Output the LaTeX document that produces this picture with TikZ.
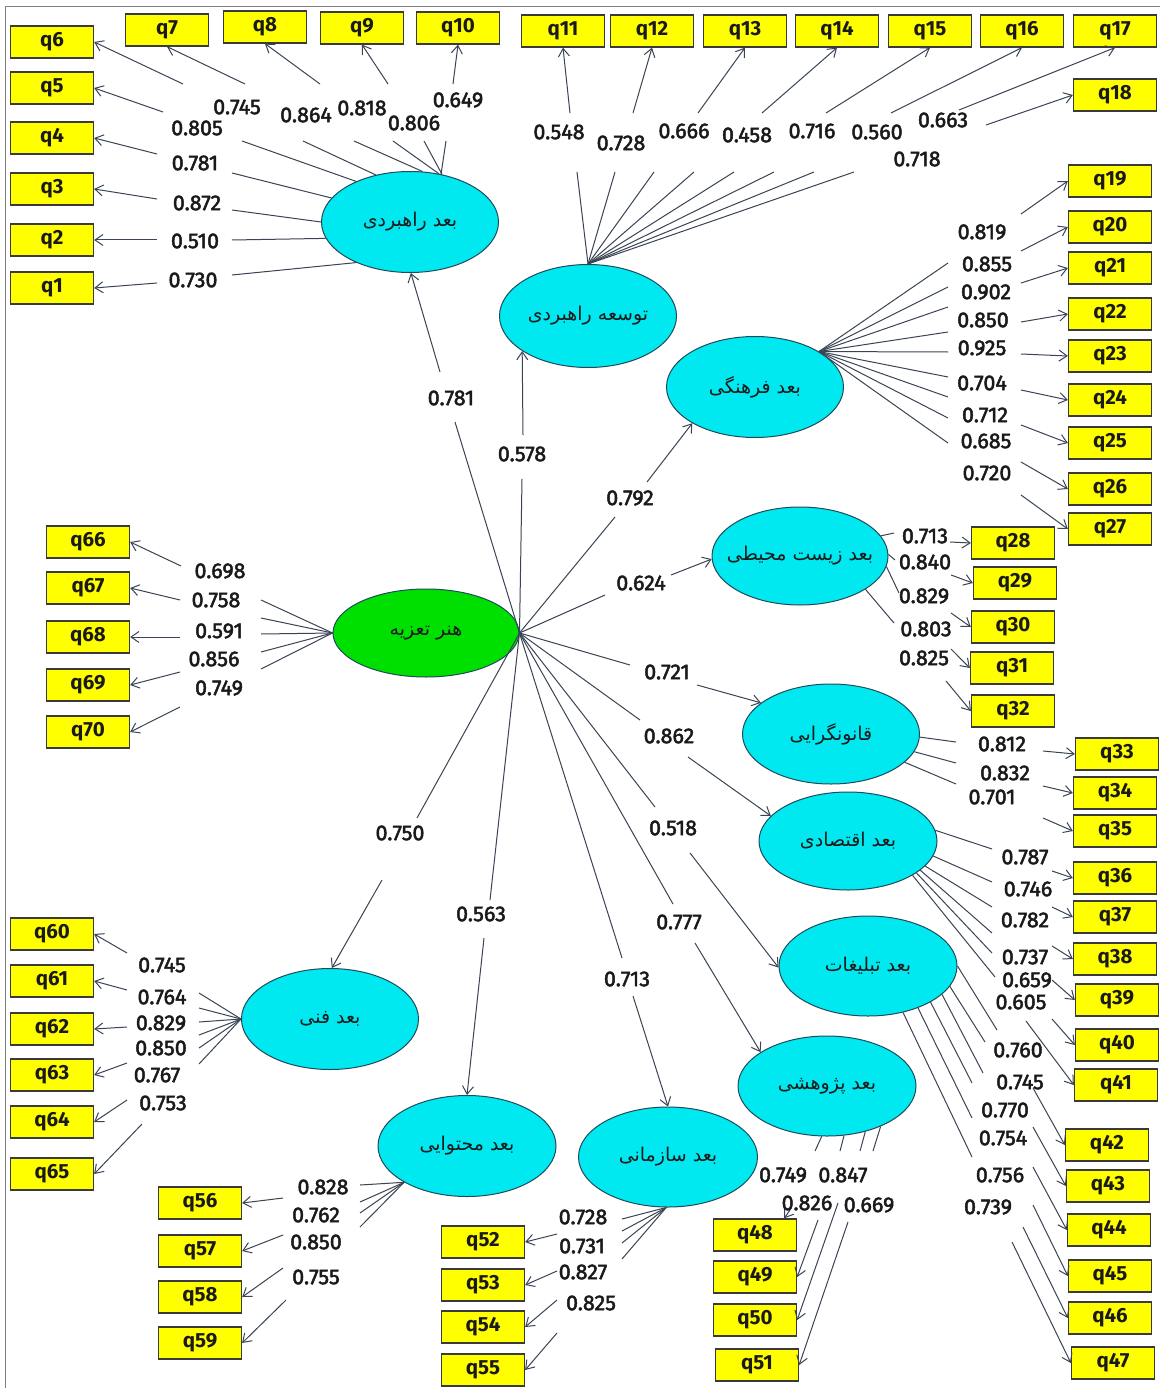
\documentclass[tikz,border=0pt]{standalone}
\usepackage{fontspec}
\setmainfont{Fira Sans}
\newfontfamily\numf[FakeBold=2.2]{Fira Sans}
\newfontfamily\fa[Script=Arabic]{DejaVu Sans}
\TeXXeTstate=1
\usetikzlibrary{shapes.geometric,arrows.meta}
\definecolor{lc}{HTML}{3A4454}
\definecolor{bc}{HTML}{3A3A3A}
\definecolor{ec}{HTML}{1E4A5A}
\definecolor{cyanf}{HTML}{00E8F0}
\definecolor{greenf}{HTML}{00E000}
\definecolor{yell}{HTML}{FFFF00}
\definecolor{txt}{HTML}{1A1A1A}
\tikzset{
  ln/.style={draw=lc, line width=1pt},
  ar/.style={ln, -{Straight Barb[length=8pt,width=11pt]}},
  lab/.style={font=\numf\fontsize{21.5}{25}\selectfont, text=txt, inner sep=0pt},
  qbox/.style={draw=bc, fill=yell, line width=1.3pt, minimum width=83pt, minimum height=32pt, inner sep=0pt, font=\fontsize{20.5}{24}\selectfont\bfseries, text=txt},
  lat/.style={ellipse, draw=ec, fill=cyanf, line width=1pt, minimum width=177pt, minimum height=101pt, inner sep=0pt},
  ptxt/.style={font=\fa\fontsize{19}{22}\selectfont, text=txt, inner sep=0pt}
}
\newcommand\ind[7]{%
  \coordinate (A-#1) at (#3);
  \coordinate (B-#1) at (#4);
  \node[lab] (L-#1) at (#7) {#6};
  \draw[ln] (#2) -- (A-#1);
  \draw[ar] (B-#1) -- (#5);
}
\newcommand\indx[5]{%
  \coordinate (B-#1) at (#2);
  \node[lab] (L-#1) at (#5) {#4};
  \draw[ar] (B-#1) -- (#3);
}
\newcommand\latn[4]{%
  \node[lat,#4] (#1) at (#2) {};
  \node[ptxt] (#1-t) at (#1) {#3};
}
\begin{document}
\begin{tikzpicture}[x=1pt,y=-1pt]
\useasboundingbox (0,0) rectangle (1160,1388);
\fill[white] (0,0) rectangle (1160,1388);
\coordinate (fr1) at (5,1388);
\coordinate (fr2) at (5,7);
\coordinate (fr3) at (1160,7);
\draw[gray, line width=1pt] (fr1) -- (fr2) -- (fr3);

% latent variables
\latn{H}{426,633}{\beginR هنر تعزیه\endR}{fill=greenf, minimum width=186pt, minimum height=88pt}
\latn{R}{410,222}{\beginR بعد راهبردی\endR}{}
\latn{T}{588,316}{\beginR توسعه راهبردی\endR}{minimum height=103pt}
\latn{F}{755,387}{\beginR بعد فرهنگی\endR}{}
\latn{Z}{800,556}{\beginR بعد زیست محیطی\endR}{minimum width=176pt, minimum height=98pt}
\latn{Q}{831,734}{\beginR قانونگرایی\endR}{minimum height=100pt}
\latn{E}{848,841}{\beginR بعد اقتصادی\endR}{minimum width=178pt, minimum height=98pt}
\latn{Tb}{868,966}{\beginR بعد تبلیغات\endR}{minimum width=178pt, minimum height=100pt}
\latn{P}{827,1086}{\beginR بعد پژوهشی\endR}{minimum width=178pt, minimum height=100pt}
\latn{S}{668,1157}{\beginR بعد سازمانی\endR}{minimum width=179pt, minimum height=100pt}
\latn{M}{467,1146}{\beginR بعد محتوایی\endR}{minimum width=178pt}
\latn{N}{330,1019}{\beginR بعد فنی\endR}{}

% indicator boxes
\foreach \n/\x/\y in {q1/52/288,q2/52/240,q3/52/189,q4/52/138,q5/52/88,q6/52/42,
  q7/167/30,q8/265/27,q9/362/28,q10/458/28,
  q11/563/31,q12/652/31,q13/745/31,q14/837/31,q15/930/31,q16/1022/31,q17/1115/31,q18/1115/95,
  q19/1110/181,q20/1110/227,q21/1110/268,q22/1110/314,q23/1110/356,q24/1110/400,q25/1110/443,q26/1110/489,q27/1110/529,
  q28/1013/543,q29/1015/583,q30/1013/627,q31/1012/668,q32/1013/711,
  q33/1117/754,q34/1115/793,q35/1115/831,
  q36/1115/878,q37/1115/917,q38/1115/959,q39/1117/1000,q40/1117/1045,q41/1116/1085,
  q42/1107/1145,q43/1108/1186,q44/1109/1230,q45/1110/1276,q46/1110/1318,q47/1113/1363,
  q48/755/1235,q49/755/1277,q50/755/1320,q51/757/1365,
  q52/483/1242,q53/483/1285,q54/483/1327,q55/483/1370,
  q56/200/1203,q57/200/1251,q58/200/1297,q59/200/1343,
  q60/52/934,q61/52/981,q62/52/1029,q63/52/1075,q64/52/1122,q65/52/1174,
  q66/88/542,q67/88/588,q68/88/637,q69/88/685,q70/88/732}
  {\node[qbox] (\n) at (\x,\y) {\n};}

% structural paths
\ind{sR}{H.east}{455,422}{440,372}{R.271}{0.781}{451,398}
\ind{sT}{H.east}{522,479}{523,435}{T.208}{0.578}{522,454}
\ind{sF}{H.east}{615,517}{647,482}{F.210}{0.792}{630,498}
\ind{sZ}{H.east}{605,595}{671,575}{Z.182}{0.624}{641,583}
\ind{sQ}{H.east}{630,665}{697,685}{Q.156}{0.721}{667,672}
\ind{sE}{H.east}{640,720}{688,757}{E.162}{0.862}{669,736}
\ind{sB}{H.east}{655,807}{690,853}{Tb.181}{0.518}{673,828}
\ind{sP}{H.east}{673,904}{695,943}{P.153}{0.777}{679,922}
\ind{sS}{H.east}{622,958}{633,996}{S.90}{0.713}{627,979}
\ind{sM}{H.east}{490,900}{484,938}{M.north}{0.563}{481,914}
\ind{sN}{H.east}{417,818}{382,880}{N.88}{0.750}{400,833}

% R
\ind{q1}{R.217}{232,275}{157,283}{q1.east}{0.730}{193,280}
\ind{q2}{R.191}{232,240}{157,240}{q2.east}{0.510}{195,241}
\ind{q3}{R.180}{232,210}{157,199}{q3.east}{0.872}{197,203}
\ind{q4}{R.163}{232,173}{157,154}{q4.east}{0.781}{195,163}
\ind{q5}{R.143}{242,141}{163,112}{q5.east}{0.805}{197,128}
\ind{q6}{R.126}{303,141}{183,84}{q6.east}{0.745}{237,107}
\ind{q7}{R.76}{354,141}{245,84}{q7.south}{0.864}{306,115}
\ind{q8}{R.59}{393,141}{320,84}{q8.south}{0.818}{362,108}
\ind{q9}{R.56}{424,141}{388,84}{q9.south}{0.806}{414,123}
\ind{q10}{R.57}{446,141}{453,84}{q10.south}{0.649}{458,100}
% T
\ind{q11}{T.north}{577,172}{570,113}{q11.south}{0.548}{559,132}
\ind{q12}{T.north}{615,172}{633,113}{q12.south}{0.728}{621,143}
\ind{q13}{T.north}{654,172}{698,113}{q13.south}{0.666}{684,131}
\ind{q14}{T.north}{694,172}{762,113}{q14.south}{0.458}{747,135}
\ind{q15}{T.north}{734,172}{826,113}{q15.south}{0.716}{812,131}
\ind{q16}{T.north}{774,172}{891,113}{q16.south}{0.560}{877,132}
\ind{q17}{T.north}{814,172}{959,110}{q17.south}{0.663}{943,120}
\ind{q18}{T.north}{854,172}{986,125}{q18.west}{0.718}{917,159}
% F
\ind{q19}{F.29}{948,263}{1021,214}{q19.west}{0.819}{982,232}
\ind{q20}{F.29}{948,287}{1021,251}{q20.west}{0.855}{987,264}
\ind{q21}{F.29}{948,307}{1021,283}{q21.west}{0.902}{986,292}
\ind{q22}{F.29}{948,332}{1021,322}{q22.west}{0.850}{983,320}
\ind{q23}{F.29}{948,352}{1021,354}{q23.west}{0.925}{982,348}
\ind{q24}{F.29}{948,377}{1021,390}{q24.west}{0.704}{982,383}
\ind{q25}{F.29}{948,397}{1021,425}{q25.west}{0.712}{985,415}
\ind{q26}{F.29}{948,418}{1021,462}{q26.west}{0.685}{986,441}
\ind{q27}{F.29}{948,443}{1021,495}{q27.west}{0.720}{987,473}
% Z
\ind{q28}{Z.14}{894,533}{950,542}{q28.west}{0.713}{925,536}
\ind{q29}{Z.1}{895,560}{951,575}{q29.west}{0.840}{925,562}
\ind{q30}{Z.353}{899,593}{951,613}{q30.west}{0.829}{924,596}
\ind{q31}{Z.333}{894,623}{951,649}{q31.west}{0.803}{926,629}
\indx{q32}{946,681}{q32.west}{0.825}{924,658}
% Q
\ind{q33}{Q.358}{956,742}{1043,751}{q33.west}{0.812}{1002,744}
\ind{q34}{Q.348}{956,763}{1043,786}{q34.west}{0.832}{1005,773}
\ind{q35}{Q.339}{956,784}{1043,818}{q35.west}{0.701}{992,797}
% E
\ind{q36}{E.7}{992,849}{1052,871}{q36.west}{0.787}{1025,857}
\ind{q37}{E.350}{992,882}{1052,907}{q37.west}{0.746}{1028,889}
\ind{q38}{E.342}{992,907}{1052,946}{q38.west}{0.782}{1025,920}
\ind{q39}{E.338}{992,933}{1052,980}{q39.west}{0.737}{1025,957}
\ind{q40}{E.335}{992,953}{1052,1019}{q40.west}{0.659}{1027,980}
\ind{q41}{E.332}{995,977}{1026,1021}{q41.west}{0.605}{1021,1002}
% Tb
\ind{q42}{Tb.0}{997,1030}{1033,1088}{q42.west}{0.760}{1018,1050}
\ind{q43}{Tb.346}{985,1042}{1033,1127}{q43.west}{0.745}{1020,1082}
\ind{q44}{Tb.339}{983,1073}{1033,1167}{q44.west}{0.770}{1005,1110}
\ind{q45}{Tb.330}{972,1083}{1033,1205}{q45.west}{0.754}{1003,1138}
\ind{q46}{Tb.320}{972,1118}{1023,1227}{q46.west}{0.756}{1000,1175}
\ind{q47}{Tb.307}{972,1157}{1012,1242}{q47.west}{0.739}{988,1207}
% P
\ind{q48}{P.264}{815,1151}{790,1210}{[xshift=-13pt]q48.north east}{0.749}{783,1175}
\ind{q49}{P.289}{840,1151}{818,1220}{q49.east}{0.826}{807,1203}
\ind{q50}{P.310}{860,1151}{838,1203}{q50.east}{0.847}{843,1175}
\ind{q51}{P.323}{873,1151}{848,1222}{q51.east}{0.669}{869,1205}
% S
\ind{q52}{S.268}{622,1219}{557,1234}{q52.east}{0.728}{583,1217}
\ind{q53}{S.268}{622,1231}{557,1271}{q53.east}{0.731}{582,1246}
\ind{q54}{S.268}{622,1243}{557,1300}{q54.east}{0.827}{583,1272}
\ind{q55}{S.268}{622,1259}{557,1333}{q55.east}{0.825}{591,1303}
% M
\ind{q56}{M.210}{360,1185}{283,1198}{q56.east}{0.828}{323,1187}
\ind{q57}{M.210}{360,1202}{283,1235}{q57.east}{0.762}{316,1215}
\ind{q58}{M.210}{360,1213}{283,1268}{q58.east}{0.850}{316,1242}
\ind{q59}{M.210}{360,1227}{286,1300}{q59.east}{0.755}{316,1277}
% N
\ind{q60}{N.180}{199,993}{127,953}{q60.east}{0.745}{162,965}
\ind{q61}{N.180}{199,1008}{127,990}{q61.east}{0.764}{162,997}
\ind{q62}{N.180}{199,1022}{127,1027}{q62.east}{0.829}{161,1023}
\ind{q63}{N.180}{199,1035}{127,1063}{q63.east}{0.850}{161,1048}
\ind{q64}{N.180}{199,1048}{127,1100}{q64.east}{0.767}{157,1075}
\ind{q65}{N.180}{199,1064}{142,1124}{q65.east}{0.753}{163,1103}
% H
\ind{q66}{H.180}{261,600}{181,566}{q66.east}{0.698}{220,571}
\ind{q67}{H.180}{261,618}{180,600}{q67.east}{0.758}{216,600}
\ind{q68}{H.180}{261,634}{180,637}{q68.east}{0.591}{219,631}
\ind{q69}{H.180}{261,652}{180,672}{q69.east}{0.856}{214,659}
\ind{q70}{H.180}{261,669}{180,707}{q70.east}{0.749}{219,688}
\end{tikzpicture}
\end{document}
